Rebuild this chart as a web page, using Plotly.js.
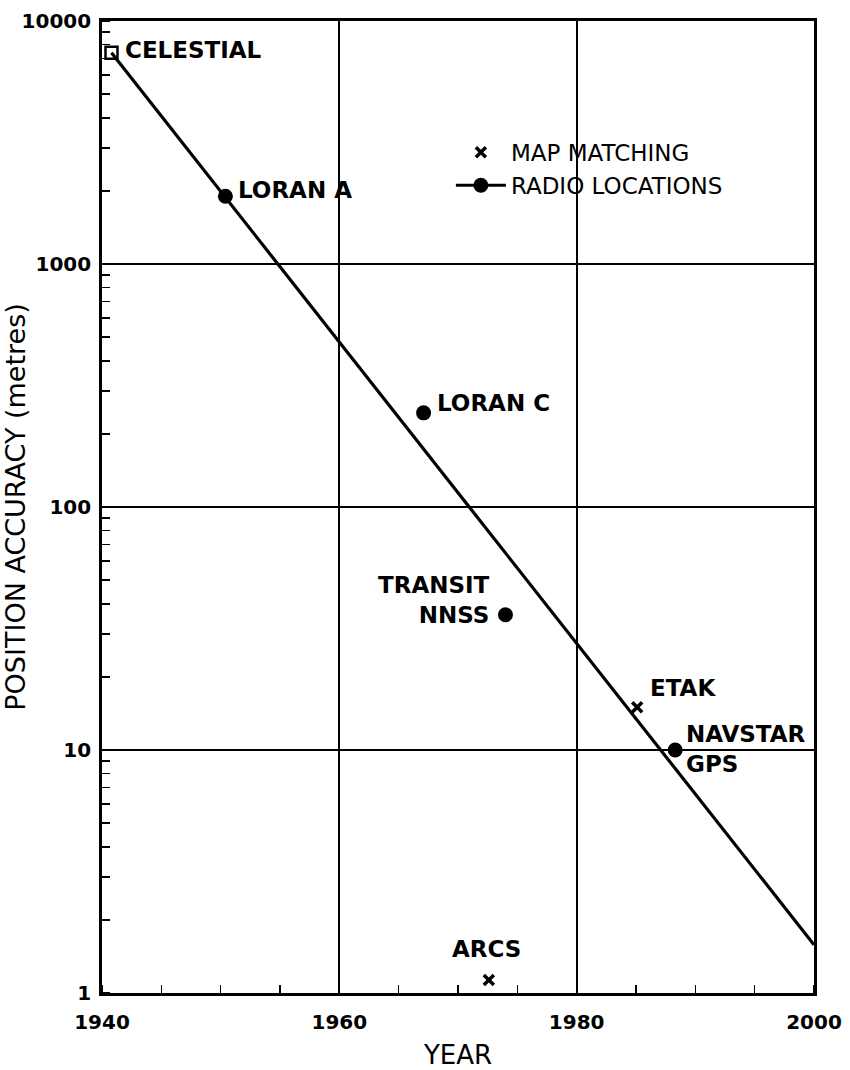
<!DOCTYPE html>
<html>
<head>
<meta charset="utf-8">
<script src="https://cdn.plot.ly/plotly-3.0.1.min.js"></script>
<style>html,body{margin:0;padding:0;background:#fff;}#chart{width:850px;height:1070px;}</style>
</head>
<body>
<div id="chart"></div>
<script>
// Radio location systems
const radioNames = ["LORAN A", "LORAN C", "TRANSIT<br>NNSS", "NAVSTAR<br>GPS"];
const radioYears = [1950.4, 1967.1, 1974.0, 1988.3];
const radioAccuracy = [1900, 244, 36, 10];

// Map matching systems
const mapNames = ["ETAK", "ARCS"];
const mapYears = [1985.1, 1972.6];
const mapAccuracy = [15, 1.13];

// Celestial navigation
const celestialYear = [1940.8];
const celestialAccuracy = [7400];

// Trend line
const trendYears = [1940.8, 2000];
const trendAccuracy = [7400, 1.58];

const xTickVals = [1940, 1960, 1980, 2000];
const yTickVals = [1, 10, 100, 1000, 10000];

const traces = [
  {x: trendYears, y: trendAccuracy, mode: 'lines', line: {color: '#000', width: 3.2}, showlegend: false, hoverinfo: 'skip'},
  {x: celestialYear, y: celestialAccuracy, mode: 'markers', showlegend: false,
   marker: {symbol: 'square-open', size: 12, color: '#000', line: {width: 2.5, color: '#000'}}},
  {x: mapYears, y: mapAccuracy, mode: 'markers', name: 'MAP MATCHING',
   marker: {symbol: 'x-thin-open', size: 10, color: '#000', line: {width: 3.5, color: '#000'}}},
  {x: radioYears, y: radioAccuracy, mode: 'markers', showlegend: false,
   marker: {symbol: 'circle', size: 15, color: '#000'}},
  {x: [null], y: [null], mode: 'lines+markers', name: 'RADIO LOCATIONS',
   line: {color: '#000', width: 3}, marker: {symbol: 'circle', size: 15, color: '#000'}}
];

const labelFont = {family: 'DejaVu Sans, sans-serif', size: 23, color: '#000', weight: 'bold'};
const annotations = [
  {x: celestialYear[0], y: Math.log10(celestialAccuracy[0]), text: 'CELESTIAL', xanchor: 'left', xshift: 12, yshift: 3},
  {x: radioYears[0], y: Math.log10(radioAccuracy[0]), text: radioNames[0], xanchor: 'left', xshift: 11, yshift: 6},
  {x: radioYears[1], y: Math.log10(radioAccuracy[1]), text: radioNames[1], xanchor: 'left', xshift: 11, yshift: 10},
  {x: radioYears[2], y: Math.log10(radioAccuracy[2]), text: radioNames[2], xanchor: 'right', align: 'right', xshift: -13, yshift: 15},
  {x: radioYears[3], y: Math.log10(radioAccuracy[3]), text: radioNames[3], xanchor: 'left', align: 'left', xshift: 9, yshift: 1},
  {x: mapYears[0], y: Math.log10(mapAccuracy[0]), text: mapNames[0], xanchor: 'left', xshift: 11, yshift: 19},
  {x: mapYears[1], y: Math.log10(mapAccuracy[1]), text: mapNames[1], xanchor: 'center', xshift: -2, yshift: 31}
].map(a => Object.assign({xref: 'x', yref: 'y', showarrow: false, font: labelFont}, a));

const layout = {
  width: 850, height: 1070,
  margin: {l: 102, r: 36, t: 21, b: 77},
  paper_bgcolor: '#fff', plot_bgcolor: '#fff',
  font: {family: 'DejaVu Sans, sans-serif', color: '#000'},
  xaxis: {
    range: [1940, 2000], tickvals: xTickVals, ticks: '', ticklabelstandoff: 9,
    showgrid: true, gridcolor: '#000', gridwidth: 2,
    showline: true, linecolor: '#000', linewidth: 2.8, mirror: true,
    zeroline: false,
    tickfont: {family: 'DejaVu Sans, sans-serif', size: 20, weight: 'bold'},
    minor: {dtick: 5, ticks: 'inside', ticklen: 8, tickwidth: 1.6, tickcolor: '#000', showgrid: false},
    title: {text: 'YEAR', font: {size: 26}, standoff: 14}
  },
  yaxis: {
    type: 'log', range: [0, 4], tickvals: yTickVals, ticktext: ['1', '10', '100', '1000', '10000'], ticks: '',
    ticklabelstandoff: 4,
    showgrid: true, gridcolor: '#000', gridwidth: 2,
    showline: true, linecolor: '#000', linewidth: 2.8, mirror: true,
    zeroline: false,
    tickfont: {family: 'DejaVu Sans, sans-serif', size: 20, weight: 'bold'},
    minor: {dtick: 'D1', ticks: 'inside', ticklen: 8, tickwidth: 1.6, tickcolor: '#000', showgrid: false},
    title: {text: 'POSITION ACCURACY (metres)', font: {size: 27}, standoff: 6}
  },
  legend: {
    x: 0.49, y: 0.887, xanchor: 'left', yanchor: 'top',
    bgcolor: 'rgba(0,0,0,0)', borderwidth: 0,
    font: {family: 'DejaVu Sans, sans-serif', size: 23, color: '#000'},
    itemwidth: 50, tracegroupgap: 0
  },
  showlegend: true,
  annotations: annotations
};

Plotly.newPlot('chart', traces, layout, {displayModeBar: false, staticPlot: true});
</script>
</body>
</html>
